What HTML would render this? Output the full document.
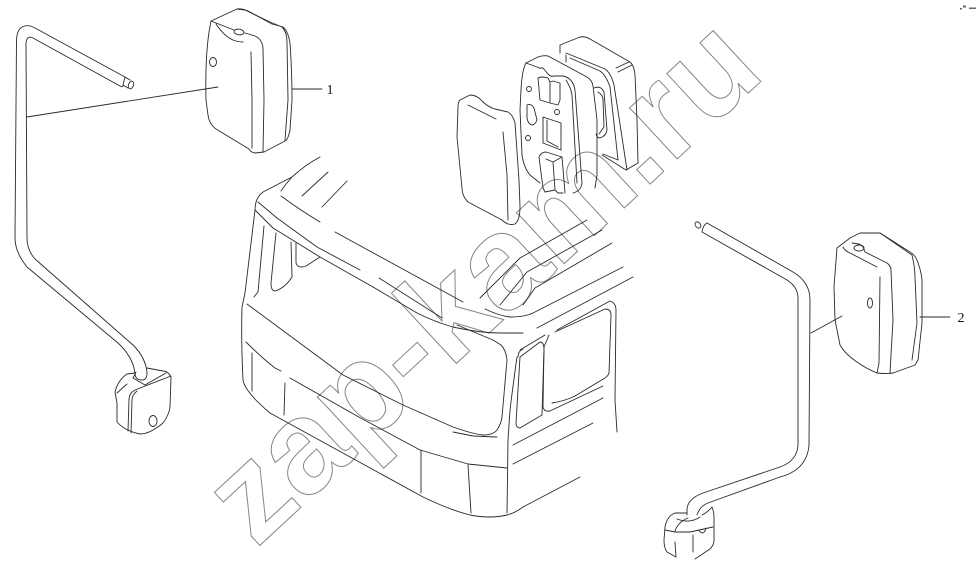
<!DOCTYPE html>
<html><head><meta charset="utf-8"><style>
html,body{margin:0;padding:0;background:#fff}
svg{display:block}
.l path,.l ellipse,.l circle{fill:none;stroke:#2a2a2a;stroke-width:.9;stroke-linecap:round;stroke-linejoin:round}
</style></head><body>
<svg width="977" height="570" viewBox="0 0 977 570" xmlns="http://www.w3.org/2000/svg">
<rect width="977" height="570" fill="#fff"/>
<text transform="translate(256,549) rotate(-42.8)" font-family="Liberation Sans, sans-serif" font-weight="700" font-size="132" fill="none" stroke="#858585" stroke-width="1">zap-kam.ru</text>
<g class="l">
<!-- left rod -->
<path d="M125 77L35 28Q28 24 22 27Q17 30 16.500 40L15 238Q15 252 27 267L118 343Q133 357 135 373"/>
<path d="M120 86L33 38Q27 35 26 43L27 238Q27 250 35 259L133 345Q146 358 147 373"/>
<path d="M135 373Q135 380 142 380Q147 380 147 373"/>
<path d="M125 77L123 85Q123 88 120 86M125 77L130 80M123 85L128 88"/>
<ellipse cx="131" cy="85" rx="2.500" ry="4" transform="rotate(20 131 85)"/>
<!-- left housing -->
<path d="M135 373L127 374Q118 380 115 392L117 403L117 422Q125 431 140 434Q150 434 163 423Q169 415 170 407L171 377Q168 371 163 371L147 368"/>
<path d="M129 400Q129 393 135 390L171 376M129 400L128 431M132 400Q132 395 137 391M132 400L131 433"/>
<path d="M117 393L127 384M133 378L145 385L166 373M133 378L136 372"/>
<ellipse cx="153" cy="421" rx="4" ry="5.500"/>
<!-- mirror 1 -->
<path d="M211 21L237 9Q243 8 250 12L272 24L283 27Q288 31 290 43Q292 70 292 100L290 130Q288 140 285 141L264 152L255 153Q250 152 249 149L216 129Q209 124 208 115L206 100Q205 60 209 32Z"/>
<path d="M216 24Q224 36 233 40Q238 42 243 42M211 21L234 30M245 33L255 36Q262 39 263 48L264 100L263 152"/>
<ellipse cx="239" cy="32" rx="5" ry="2.800" transform="rotate(8 239 32)"/>
<path d="M251 52L252 100L252 148"/>
<path d="M237 9L245 10L270 22L282 27Q287 32 287 42L288 100L285 140"/>
<ellipse cx="213" cy="62" rx="3.500" ry="4.500"/>
<path d="M27 117L218 87M292 89L322 89"/>
<!-- exploded glass -->
<path d="M460 100L470 95Q477 95 482 101Q488 107 495 109L508 112Q513 115 515 123L519 180L520 207Q520 220 515 224Q508 226 502 220L468 202Q462 196 462 188L457 137L458 107Q458 102 460 100Z"/>
<path d="M468 105L496 119M503 132L507 175L508 220"/>
<!-- plate -->
<path d="M526 63L538 57Q543 55 548 56L587 77Q592 80 593 86L597 120V175L595 188"/>
<path d="M526 63Q522 70 521 90L520 110L522 155Q524 168 530 175L540 183"/>
<path d="M526 63L537 67L539 68L543 68L548 74Q551 77 554 76L563 76Q573 78 575 90L582 183Q581 191 573 193"/>
<path d="M566 80Q571 88 572 95L577 183"/>
<path d="M538 78L540 100L550 103M538 78Q541 76 548 78L550 82L550 103L558 105L560 100L560 83L553 81L550 82"/>
<path d="M539 157Q541 152 546 152L562 157L565 193M539 157L543 188L545 192L555 190L558 193L563 193M553 162L555 190M546 159L553 162L562 157"/>
<circle cx="529" cy="89" r="2.500"/><circle cx="557" cy="112" r="2.500"/><circle cx="528" cy="138" r="2.500"/>
<path d="M527 105Q531 103 534 108L537 120Q535 125 532 125Q528 124 527 118Z"/>
<path d="M543 117L561 123L561 150L543 143ZM547 120L547 141L558 147"/>
<!-- back housing -->
<path d="M560 53V45L580 37Q585 36 590 39L630 62Q634 65 635 75L637 120L638 163L626 170L602 155"/>
<path d="M566 55V62M566 53L605 69Q611 73 614 85L627 170M570 58L600 71Q606 75 610 87L618 160L603 154"/>
<path d="M616 68L629 62M618 72L632 65"/>
<path d="M594 88Q601 85 604 92L607 130Q606 136 600 138Q597 138 596 134"/>
<path d="M598 92Q603 95 603 100L604 127L599 134"/>
<!-- cab -->
<path d="M320 157Q305 165 292 177L263 192Q255 198 255 210L245 293L242 307Q241 340 243 380Q245 392 270 413L423 497Q450 510 470 515Q490 519 507 515Q515 513 523 507L580 477"/>
<path d="M292 177Q285 185 281 191"/>
<path d="M258 202L277 218L317 247L360 270"/>
<path d="M255 210L273 228L320 257L373 287L417 313Q435 322 453 327Q480 333 500 333L523 333"/>
<path d="M281 196Q300 210 320 222M302 196L328 172M322 207L347 181"/>
<path d="M335 232L463 302M379 278L442 318"/>
<path d="M485 309Q500 316 510 317Q525 317 533 313L623 267M523 305L535 288L612 243M537 328L633 277"/>
<path d="M480 298L520 258L587 220M500 305L527 272L602 230"/>
<!-- cab windows left -->
<path d="M264 226L258 292L254 297M276 233L271 283Q271 291 275 291Q285 288 292 277L291 242"/>
<path d="M296 243L296 263Q298 269 306 266L320 257"/>
<!-- windshield -->
<path d="M247 304L343 375L403 405L453 427Q473 434 483 435Q493 435 497 430Q501 424 502 417L507 360Q506 350 501 345L493 340L457 325"/>
<path d="M453 432L473 436L497 437"/>
<path d="M246 342Q262 358 275 368L281 371M290 378L357 416M357 416L420 450L468 464L507 468"/>
<path d="M252 353V391M285 383L284 415M421 450L421 493M468 465L471 513"/>
<path d="M517 357Q513 385 510 410L508 440L507 513"/>
<path d="M520 350L545 335M518 357Q518 351 523 349"/>
<path d="M520 357L540 342Q544 342 544 350L542 415L520 428Q516 428 516 423L520 357Z"/>
<path d="M549 335L544 347L543 407Q544 412 550 411L603 386"/>
<path d="M557 330L610 301Q616 303 616 310L615 400L617 432"/>
<path d="M555 332L605 309Q611 309 611 315L609 373Q608 376 605 378L575 396Q565 401 552 403"/>
<path d="M513 445L603 398M513 464L593 423"/>
<!-- right rod -->
<path d="M707 223L793 272Q810 282 810 300L809 445Q807 470 780 477L708 503Q700 506 697 515"/>
<path d="M702 232L787 280Q798 287 798 298L798 445Q797 461 780 467L703 493Q687 499 687 510L687 515"/>
<path d="M707 223Q703 225 702 232"/>
<ellipse cx="698" cy="225" rx="2.500" ry="3.500" transform="rotate(-40 698 225)"/>
<!-- right lower housing -->
<path d="M687 513L675 513Q667 516 665 527L664 540Q664 548 667 552L676 557M702 515Q708 512 712 507Q714 512 714 518V540Q714 545 710 549L695 559"/>
<path d="M665 530L675 532L690 532L713 527M675 542L676 557M693 535V552"/>
<path d="M675 531Q678 522 688 518M677 519Q690 524 700 517"/>
<path d="M699 530Q700 533 703 533Q705 532 706 528"/>
<!-- mirror 2 -->
<path d="M837 248L850 238L860 233H880L910 252Q915 255 917 260Q921 270 922 280L922 323L918 360L915 365L893 373Q885 374 877 373Q865 368 857 362Q845 354 840 345L835 320L834 287Z"/>
<path d="M843 247Q845 251 850 253L877 267M880 277L879 363L877 373"/>
<path d="M852 243L859 244Q863 245 865 252L887 263Q891 266 891 270L893 320L890 373"/>
<path d="M880 233L912 255Q915 268 915 277L917 323L912 360"/>
<ellipse cx="859" cy="248" rx="5" ry="3"/>
<ellipse cx="870" cy="303" rx="2.500" ry="5"/>
<path d="M811 333L842 316M920 317H950"/>
</g>
<text x="330" y="94" font-family="Liberation Serif, serif" font-size="14" fill="#111" text-anchor="middle">1</text>
<text x="961" y="322" font-family="Liberation Serif, serif" font-size="14" fill="#111" text-anchor="middle">2</text>
<g fill="#666"><rect x="960" y="8" width="2" height="1.500"/><rect x="963" y="5.500" width="3" height="2"/><rect x="969" y="7.500" width="7" height="1.500"/></g>
</svg>
</body></html>
